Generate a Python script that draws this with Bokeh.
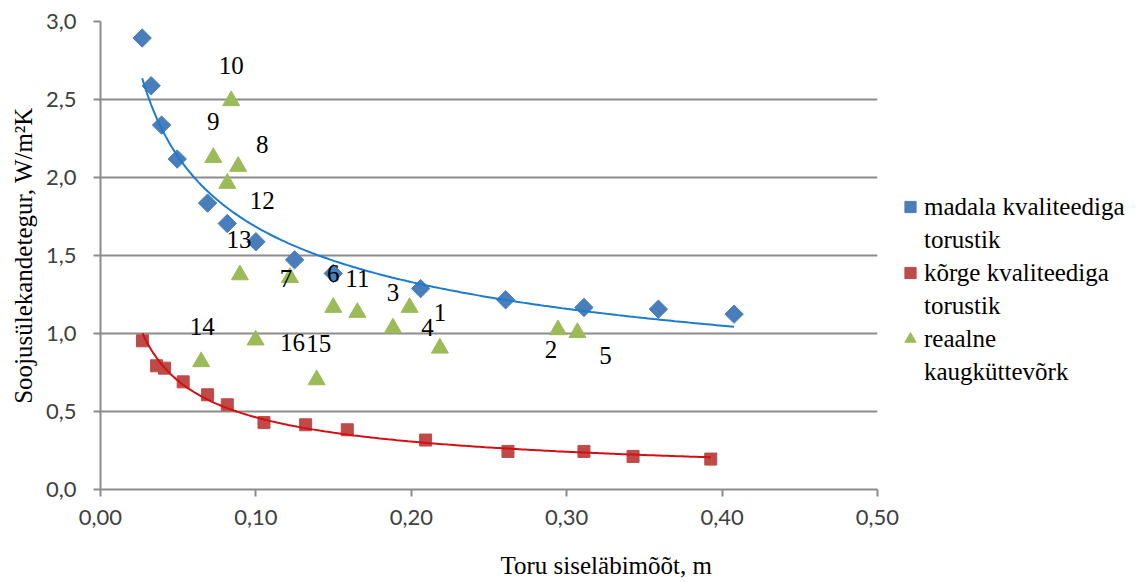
import numpy as np
from bokeh.plotting import figure
from bokeh.models import Range1d, FixedTicker, CustomJSTickFormatter, Legend, LegendItem, Title
from bokeh.core.properties import value
from bokeh.embed import file_html
from bokeh.resources import INLINE

# ---------------- data ----------------
low_x = [0.0268, 0.0326, 0.0393, 0.0494, 0.0689, 0.0816, 0.1000, 0.1249, 0.1498, 0.2060, 0.2607, 0.3111, 0.3590, 0.4077]
low_y = [2.894, 2.588, 2.336, 2.118, 1.836, 1.705, 1.588, 1.472, 1.385, 1.288, 1.216, 1.167, 1.156, 1.124]

high_x = [0.0270, 0.0361, 0.0412, 0.0532, 0.0689, 0.0816, 0.1052, 0.1320, 0.1588, 0.2092, 0.2622, 0.3111, 0.3427, 0.3927]
high_y = [0.953, 0.793, 0.778, 0.690, 0.607, 0.543, 0.429, 0.415, 0.383, 0.317, 0.244, 0.244, 0.212, 0.195]

net_id = ["1", "2", "3", "4", "5", "6", "7", "8", "9", "10", "11", "12", "13", "14", "15", "16"]
net_x = [0.2184, 0.2944, 0.1882, 0.1989, 0.3069, 0.1498, 0.1219, 0.0886, 0.0726, 0.0841, 0.1653, 0.0816, 0.0897, 0.0648, 0.1391, 0.0998]
net_y = [0.906, 1.024, 1.035, 1.167, 1.006, 1.167, 1.359, 2.071, 2.128, 2.492, 1.135, 1.962, 1.376, 0.819, 0.703, 0.958]

series_lines = [["madala kvaliteediga", "torustik"],
                ["kõrge kvaliteediga", "torustik"],
                ["reaalne", "kaugküttevõrk"]]
x_ticks = [0.0, 0.1, 0.2, 0.3, 0.4, 0.5]
y_ticks = [0.0, 0.5, 1.0, 1.5, 2.0, 2.5, 3.0]
x_title = "Toru siseläbimõõt, m"
y_title = "Soojusülekandetegur, W/m²K"

# ---------------- styles (label placement in pixels) ----------------
label_dx = [0, -7, 0, 18, 28, 0, -4, 24, 0, 0, 0, 35, -1, 1, 2, 37]
label_dy = [-36, 20, -36, 20, 23, -34, 1, -22, -36, -35, -34, 17, -35, -35, -36, 2]

BLUE = "#4a7ebb"
RED = "#be4b48"
GREEN = "#9bbb59"
GRID = "#8c8c8c"
SERIF = "Liberation Serif"


def power_fit(xs, ys, n=200):
    b, lna = np.polyfit(np.log(xs), np.log(ys), 1)
    xx = np.linspace(min(xs), max(xs), n)
    return xx, np.exp(lna) * xx ** b


p = figure(frame_width=777, frame_height=468,
           x_range=Range1d(0, 0.5), y_range=Range1d(0, 3),
           output_backend="svg", toolbar_location=None,
           min_border_left=100, min_border_right=263,
           min_border_top=21, min_border_bottom=60)
p.outline_line_color = None
p.background_fill_color = "white"
p.border_fill_color = "white"

p.xgrid.visible = False
p.ygrid.grid_line_color = GRID
p.ygrid.grid_line_width = 2

p.xaxis.ticker = FixedTicker(ticks=x_ticks)
p.yaxis.ticker = FixedTicker(ticks=y_ticks)
p.xaxis.formatter = CustomJSTickFormatter(code="return tick.toFixed(2).replace('.', ',');")
p.yaxis.formatter = CustomJSTickFormatter(code="return tick.toFixed(1).replace('.', ',');")

for ax in (p.xaxis[0], p.yaxis[0]):
    ax.axis_line_color = GRID
    ax.axis_line_width = 2
    ax.major_tick_line_color = GRID
    ax.major_tick_line_width = 2
    ax.major_tick_in = 0
    ax.major_tick_out = 7
    ax.minor_tick_line_color = None
    ax.major_label_text_font = "Lato"
    ax.major_label_text_font_size = "22px"
    ax.major_label_text_color = "#404040"
    ax.major_label_standoff = 13

p.yaxis.major_label_standoff = 17
p.yaxis.axis_label = y_title
p.yaxis.axis_label_text_font = SERIF
p.yaxis.axis_label_text_font_size = "25px"
p.yaxis.axis_label_text_font_style = "normal"
p.yaxis.axis_label_text_color = "black"
p.yaxis.axis_label_standoff = 6

# spacer below the tick labels so the title sits near the bottom edge
p.xaxis.axis_label = " "
p.xaxis.axis_label_text_font_size = "2px"
p.xaxis.axis_label_standoff = 17

p.add_layout(Title(text=x_title, align="left", offset=400, vertical_align="bottom",
                   text_font=SERIF, text_font_size="25px", text_font_style="normal",
                   text_color="black", standoff=0), "below")

r_low = p.scatter(low_x, low_y, marker="square", size=13, angle=np.pi / 4,
                  fill_color=BLUE, line_color=BLUE)
r_high = p.scatter(high_x, high_y, marker="square", size=12,
                   fill_color=RED, line_color=RED)
r_net = p.scatter(net_x, net_y, marker="triangle", size=17,
                  fill_color=GREEN, line_color=GREEN)

fx, fy = power_fit(low_x, low_y)
p.line(fx, fy, line_color="#1a7bd0", line_width=2)
fx, fy = power_fit(high_x, high_y)
p.line(fx, fy, line_color="#d40f14", line_width=2)

p.text(x=net_x, y=net_y, text=net_id, x_offset=label_dx, y_offset=label_dy,
       text_font=value(SERIF), text_font_size="25px", text_color="black",
       text_align="center", text_baseline="middle")

items = []
for lines, r in zip(series_lines, [r_low, r_high, r_net]):
    items.append(LegendItem(label=value(lines[0]), renderers=[r]))
    items.append(LegendItem(label=value(lines[1]), renderers=[]))

legend = Legend(items=items, location=(19, 101))
legend.label_text_font = SERIF
legend.label_text_font_size = "25px"
legend.label_text_color = "black"
legend.border_line_color = None
legend.background_fill_alpha = 0
legend.padding = 0
legend.margin = 0
legend.spacing = 0
legend.glyph_width = 28
legend.glyph_height = 33
legend.label_height = 33
legend.label_standoff = 0
p.add_layout(legend, "right")

open("out.html", "w").write(file_html(p, INLINE))
